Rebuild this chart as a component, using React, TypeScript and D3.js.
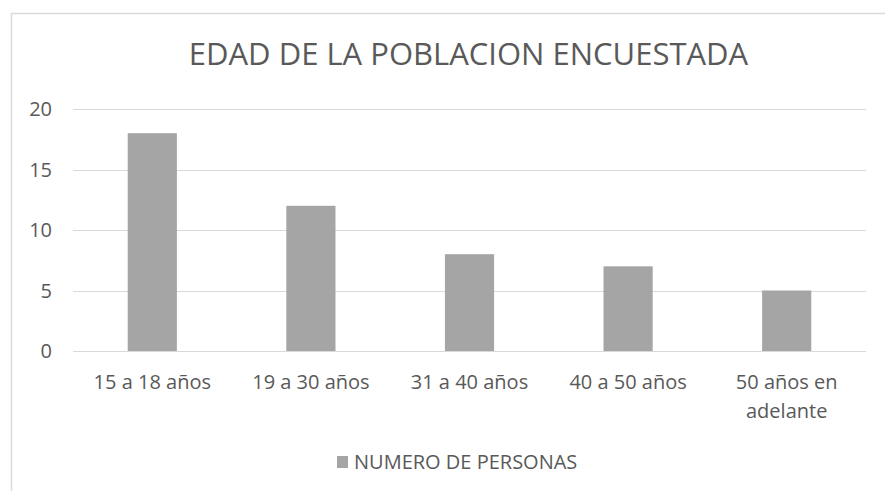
import React, { useEffect, useRef } from 'react';
import * as d3 from 'd3';

const categories = ['15 a 18 años', '19 a 30 años', '31 a 40 años', '40 a 50 años', '50 años en adelante'];
const values = [18, 12, 8, 7, 5];
const yTicks = [0, 5, 10, 15, 20];
const title = 'EDAD DE LA POBLACION ENCUESTADA';
const seriesName = 'NUMERO DE PERSONAS';

const App = () => {
  const ref = useRef<SVGSVGElement>(null);
  const width = 885;
  const height = 491;
  const plot = { left: 73, right: 866, top: 109, bottom: 351 };

  useEffect(() => {
    const svg = d3.select(ref.current);
    svg.selectAll('*').remove();

    const font = "'Open Sans', sans-serif";
    const textColor = '#595959';

    svg.append('rect').attr('width', width).attr('height', height).attr('fill', '#fff');

    // chart frame (only left and top edges visible in the crop)
    svg.append('path')
      .attr('d', `M11.5,${height} V13.5 H${width}`)
      .attr('fill', 'none')
      .attr('stroke', '#d9d9d9')
      .attr('stroke-width', 1.5);

    svg.append('text')
      .attr('x', (plot.left + plot.right) / 2 - 1)
      .attr('y', 65)
      .attr('text-anchor', 'middle')
      .attr('font-family', font)
      .attr('font-size', 31)
      .attr('fill', textColor)
      .text(title);

    const x = d3.scaleBand()
      .domain(categories)
      .range([plot.left, plot.right])
      .paddingInner(0.69)
      .paddingOuter(0.345);

    const y = d3.scaleLinear().domain([0, 20]).range([plot.bottom, plot.top]);

    const g = svg.append('g');

    g.selectAll('.grid')
      .data(yTicks)
      .enter()
      .append('line')
      .attr('x1', plot.left)
      .attr('x2', plot.right)
      .attr('y1', (d) => Math.round(y(d)) + 0.5)
      .attr('y2', (d) => Math.round(y(d)) + 0.5)
      .attr('stroke', '#d9d9d9')
      .attr('stroke-width', 1.2);

    g.selectAll('.ytick')
      .data(yTicks)
      .enter()
      .append('text')
      .attr('x', 52)
      .attr('y', (d) => y(d))
      .attr('dy', '0.35em')
      .attr('text-anchor', 'end')
      .attr('font-family', font)
      .attr('font-size', 20)
      .attr('fill', textColor)
      .text((d) => d);

    g.selectAll('.bar')
      .data(values)
      .enter()
      .append('rect')
      .attr('x', (d, i) => x(categories[i]) as number)
      .attr('y', (d) => y(d))
      .attr('width', x.bandwidth())
      .attr('height', (d) => y(0) - y(d))
      .attr('fill', '#a5a5a5');

    const step = x.step();
    const labels = g.selectAll('.xlabel')
      .data(categories)
      .enter()
      .append('text')
      .attr('text-anchor', 'middle')
      .attr('font-family', font)
      .attr('font-size', 20)
      .attr('fill', textColor);

    labels.each(function (d) {
      const t = d3.select(this);
      const cx = (x(d) as number) + x.bandwidth() / 2;
      const words = d.split(' ');
      let line: string[] = [];
      let lineNo = 0;
      let tspan = t.append('tspan').attr('x', cx).attr('y', 389);
      for (const w of words) {
        line.push(w);
        tspan.text(line.join(' '));
        if ((tspan.node() as SVGTSpanElement).getComputedTextLength() > step - 25 && line.length > 1) {
          line.pop();
          tspan.text(line.join(' '));
          line = [w];
          lineNo += 1;
          tspan = t.append('tspan').attr('x', cx).attr('y', 389 + lineNo * 29).text(w);
        }
      }
    });

    // legend
    const legend = svg.append('g');
    legend.append('rect')
      .attr('x', 337)
      .attr('y', 456)
      .attr('width', 11)
      .attr('height', 12)
      .attr('fill', '#a5a5a5');
    legend.append('text')
      .attr('x', 354)
      .attr('y', 469)
      .attr('font-family', font)
      .attr('font-size', 20)
      .attr('fill', textColor)
      .text(seriesName);
  }, []);

  return (
    <svg
      ref={ref}
      width={width}
      height={height}
      style={{ position: 'absolute', left: 0, top: 0, display: 'block' }}
    />
  );
};

export default App;
